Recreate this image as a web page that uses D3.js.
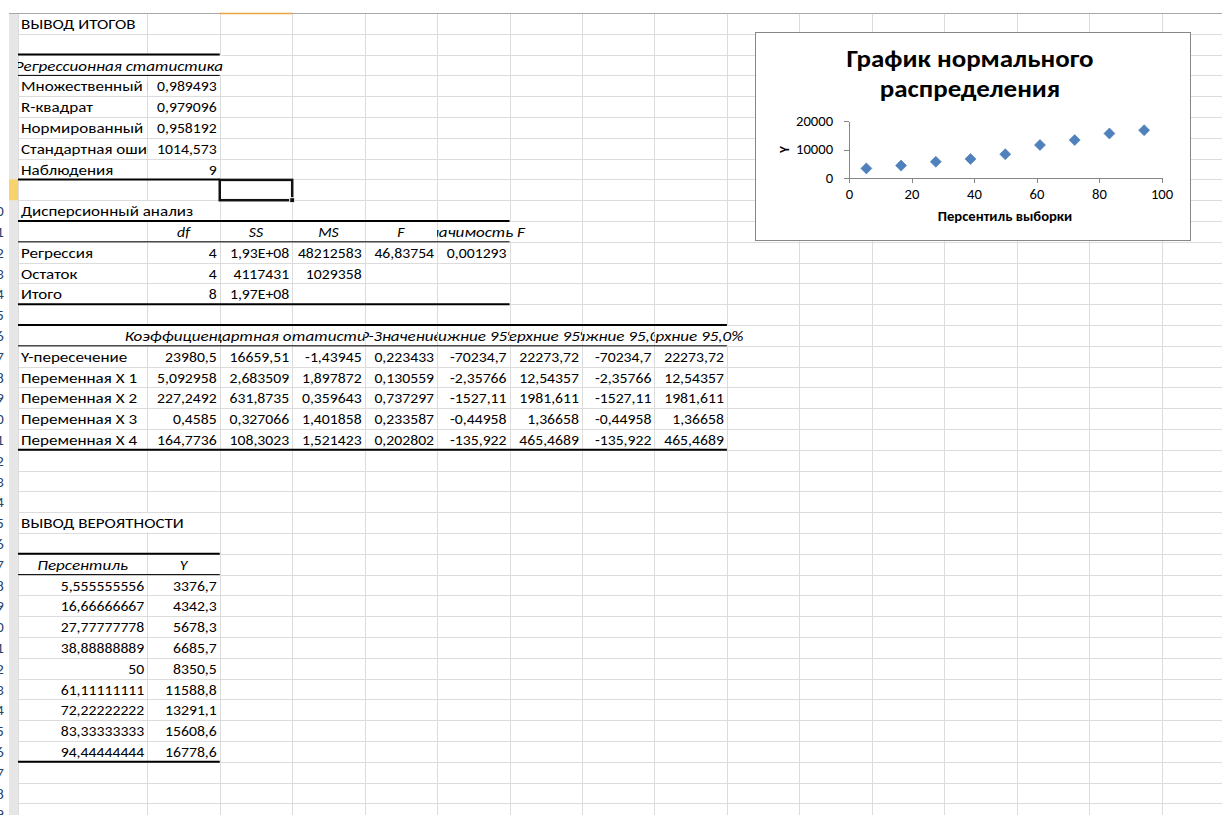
<!DOCTYPE html>
<html lang="ru">
<head>
<meta charset="utf-8">
<title>Вывод итогов</title>
<style>
body { margin: 0; padding: 0; background: white; }
svg { display: block; font-family: Calibri, Carlito, 'Open Sans', sans-serif; }
.cell { font-size: 14.7px; fill: #000; }
.rownum { font-size: 14px; fill: #27446e; }
.grid line { stroke: #dcdcdc; stroke-width: 1; shape-rendering: crispEdges; }
.chart-title { font-size: 24.5px; font-weight: bold; fill: #000; }
.axis path, .axis line { stroke: #868686; shape-rendering: crispEdges; }
.axis text { font-size: 13.3px; fill: #000; font-family: Calibri, Carlito, 'Open Sans', sans-serif; }
.axis-title { font-size: 13.3px; font-weight: bold; fill: #000; }
</style>
</head>
<body>
<div id="sheet"></div>
<script src="https://d3js.org/d3.v7.min.js"></script>
<script>

const summaryTitle = "ВЫВОД ИТОГОВ";
const regStatTitle = "Регрессионная статистика";
const regStatLabels = ["Множественный R", "R-квадрат", "Нормированный R-квадрат", "Стандартная ошибка", "Наблюдения"];
const regStatValues = ["0,989493", "0,979096", "0,958192", "1014,573", "9"];

const anovaTitle = "Дисперсионный анализ";
const anovaHeaders = ["df", "SS", "MS", "F", "Значимость F"];
const anovaLabels = ["Регрессия", "Остаток", "Итого"];
const anovaValues = [
	["4", "1,93E+08", "48212583", "46,83754", "0,001293"],
	["4", "4117431", "1029358", "", ""],
	["8", "1,97E+08", "", "", ""]
];

const coefHeaders = ["Коэффициенты", "Стандартная ошибка", "t-статистика", "P-Значение", "Нижние 95%", "Верхние 95%", "Нижние 95,0%", "Верхние 95,0%"];
const coefLabels = ["Y-пересечение", "Переменная X 1", "Переменная X 2", "Переменная X 3", "Переменная X 4"];
const coefValues = [
	["23980,5", "16659,51", "-1,43945", "0,223433", "-70234,7", "22273,72", "-70234,7", "22273,72"],
	["5,092958", "2,683509", "1,897872", "0,130559", "-2,35766", "12,54357", "-2,35766", "12,54357"],
	["227,2492", "631,8735", "0,359643", "0,737297", "-1527,11", "1981,611", "-1527,11", "1981,611"],
	["0,4585", "0,327066", "1,401858", "0,233587", "-0,44958", "1,36658", "-0,44958", "1,36658"],
	["164,7736", "108,3023", "1,521423", "0,202802", "-135,922", "465,4689", "-135,922", "465,4689"]
];

const probTitle = "ВЫВОД ВЕРОЯТНОСТИ";
const probHeaders = ["Персентиль", "Y"];
const percentiles = [5.555555556, 16.66666667, 27.77777778, 38.88888889, 50, 61.11111111, 72.22222222, 83.33333333, 94.44444444];
const yValues = [3376.7, 4342.3, 5678.3, 6685.7, 8350.5, 11588.8, 13291.1, 15608.6, 16778.6];

const chartTitle = ["График нормального", "распределения"];
const xTicks = [0, 20, 40, 60, 80, 100];
const yTicks = [0, 10000, 20000];
const xTitle = "Персентиль выборки";
const yTitle = "Y";

// sheet geometry
const W = 1222, H = 815;
const top0 = 13, rowH = 20.8, nRows = 39;
const sx = 1.1;      // the screenshot is a bit wider than tall
const sxWord = 1.16; // cyrillic came out wider than the digits
const sxNum = 1.07;
const colEdges = [18, 147.3];
while (colEdges[colEdges.length - 1] < W) colEdges.push(colEdges[colEdges.length - 1] + 72.45);
const rowTop = r => top0 + (r - 1) * rowH;
const baseY = r => rowTop(r) + rowH - 4.8;

const fmt = v => (+v.toPrecision(10)).toString().replace(".", ",");

// cells: r is 1-based row, c is 0-based column
const cells = [];
function put(r, c, text, align, italic, span) {
	if (text === "") return;
	cells.push({r: r, c: c, c1: span || c, text: text, align: align || "left", italic: !!italic});
}

put(1, 0, summaryTitle);
put(3, 0, regStatTitle, "center", true, 1);
regStatLabels.forEach(function(d, i){
	put(4 + i, 0, d);
	put(4 + i, 1, regStatValues[i], "right");
});

put(10, 0, anovaTitle);
anovaHeaders.forEach(function(d, i){ put(11, 1 + i, d, "center", true); });
anovaLabels.forEach(function(d, i){
	put(12 + i, 0, d);
	anovaValues[i].forEach(function(v, j){ put(12 + i, 1 + j, v, "right"); });
});

coefHeaders.forEach(function(d, i){ put(16, 1 + i, d, "center", true); });
coefLabels.forEach(function(d, i){
	put(17 + i, 0, d);
	coefValues[i].forEach(function(v, j){ put(17 + i, 1 + j, v, "right"); });
});

put(25, 0, probTitle);
probHeaders.forEach(function(d, i){ put(27, i, d, "center", true); });
percentiles.forEach(function(d, i){
	put(28 + i, 0, fmt(d), "right");
	put(28 + i, 1, fmt(yValues[i]), "right");
});

// table borders: [row, edge, lastCol, weight]
const borders = [
	[3, "top", 1, 2], [3, "bottom", 1, 1], [8, "bottom", 1, 2],
	[11, "top", 5, 2], [11, "bottom", 5, 1], [14, "bottom", 5, 2],
	[16, "top", 8, 2], [16, "bottom", 8, 1], [21, "bottom", 8, 2],
	[27, "top", 1, 2], [27, "bottom", 1, 1], [36, "bottom", 1, 2]
];

const svg = d3.select("#sheet")
	.append("svg")
	.attr("width", W)
	.attr("height", H);

const defs = svg.append("defs");

// gridlines
const grid = svg.append("g").attr("class", "grid");
d3.range(1, nRows + 1).forEach(function(r){
	grid.append("line")
		.attr("x1", 18).attr("x2", W)
		.attr("y1", Math.round(rowTop(r)) + 0.5).attr("y2", Math.round(rowTop(r)) + 0.5);
});
colEdges.forEach(function(x){
	grid.append("line")
		.attr("x1", Math.round(x) + 0.5).attr("x2", Math.round(x) + 0.5)
		.attr("y1", top0).attr("y2", H);
});

// row header strip
svg.append("rect")
	.attr("x", 9).attr("y", top0)
	.attr("width", 9).attr("height", H - top0)
	.attr("fill", "#e6e6e6");
svg.append("rect")
	.attr("x", 9).attr("y", rowTop(9))
	.attr("width", 9).attr("height", rowH)
	.attr("fill", "#f7d36b");
svg.append("line")
	.attr("x1", 9).attr("x2", W)
	.attr("y1", top0 + 0.5).attr("y2", top0 + 0.5)
	.attr("stroke", "#a8a8a8");
svg.append("line")
	.attr("x1", colEdges[2]).attr("x2", colEdges[3])
	.attr("y1", top0 + 0.5).attr("y2", top0 + 0.5)
	.attr("stroke", "#e9a53f")
	.attr("stroke-width", 1.5);

// row numbers: the header column is cut, only the last digit peeks out
defs.append("clipPath").attr("id", "rowclip")
	.append("rect").attr("x", 0).attr("y", 0).attr("width", 9).attr("height", H);
const rowNums = svg.append("g").attr("clip-path", "url(#rowclip)");
d3.range(1, nRows + 1).forEach(function(r){
	rowNums.append("text")
		.attr("class", "rownum")
		.attr("transform", "translate(-4," + baseY(r) + ") scale(" + sx + ",1)")
		.attr("text-anchor", "middle")
		.text(r);
});

// cell text with excel-like overflow
const occupied = {};
cells.forEach(function(d){
	for (let c = d.c; c <= d.c1; c++) occupied[d.r + "_" + c] = true;
});

const bgLayer = svg.append("g");
const textLayer = svg.append("g");

cells.forEach(function(d, i){
	const left = colEdges[d.c], right = colEdges[d.c1 + 1];
	let clipL = left, clipR = right;
	if (d.align !== "left") {
		let c = d.c - 1;
		while (c >= 0 && !occupied[d.r + "_" + c]) c--;
		clipL = colEdges[c + 1];
	}
	if (d.align !== "right") {
		let c = d.c1 + 1;
		while (colEdges[c + 1] !== undefined && !occupied[d.r + "_" + c]) c++;
		clipR = colEdges[c] !== undefined ? colEdges[c] : W;
	}
	const x = d.align === "left" ? left + 3 : d.align === "right" ? right - 3 : (left + right) / 2;
	const anchor = d.align === "left" ? "start" : d.align === "right" ? "end" : "middle";
	const k = /[А-Яа-яЁё]/.test(d.text) ? sxWord : sxNum;

	defs.append("clipPath").attr("id", "cc" + i)
		.append("rect")
		.attr("x", clipL).attr("y", rowTop(d.r))
		.attr("width", clipR - clipL).attr("height", rowH);

	const t = textLayer.append("g")
		.attr("clip-path", "url(#cc" + i + ")")
		.append("text")
		.attr("class", "cell")
		.attr("transform", "translate(" + x + "," + baseY(d.r) + ") scale(" + k + ",1)")
		.attr("text-anchor", anchor)
		.style("font-style", d.italic ? "italic" : null)
		.text(d.text);

	const w = t.node().getComputedTextLength() * k;
	const tx0 = anchor === "start" ? x : anchor === "end" ? x - w : x - w / 2;
	const x0 = Math.max(tx0, clipL + 1), x1 = Math.min(tx0 + w, clipR - 1);
	if (x1 > x0 && (tx0 < left || tx0 + w > right)) {
		bgLayer.append("rect")
			.attr("x", x0).attr("y", rowTop(d.r) + 1)
			.attr("width", x1 - x0).attr("height", rowH - 1.5)
			.attr("fill", "white");
	}
});

// borders
borders.forEach(function(b){
	const y = b[1] === "top" ? rowTop(b[0]) : rowTop(b[0] + 1);
	svg.append("line")
		.attr("x1", colEdges[0]).attr("x2", colEdges[b[2] + 1])
		.attr("y1", y).attr("y2", y)
		.attr("stroke", "#000")
		.attr("stroke-width", b[3]);
});

// selected cell C9
const selX0 = colEdges[2], selX1 = colEdges[3];
svg.append("rect")
	.attr("x", selX0).attr("y", rowTop(9) + 0.5)
	.attr("width", selX1 - selX0).attr("height", rowH - 0.5)
	.attr("fill", "none")
	.attr("stroke", "#111")
	.attr("stroke-width", 2.5);
svg.append("rect")
	.attr("x", selX1 - 2.5).attr("y", rowTop(10) - 2.5)
	.attr("width", 5).attr("height", 5)
	.attr("fill", "#111")
	.attr("stroke", "white")
	.attr("stroke-width", 1);

// chart
const chart = {x: 755, y: 32, w: 435, h: 208};
const cg = svg.append("g")
	.attr("transform", "translate(" + chart.x + "," + chart.y + ")");

cg.append("rect")
	.attr("x", 0.5).attr("y", 0.5)
	.attr("width", chart.w).attr("height", chart.h)
	.attr("fill", "white")
	.attr("stroke", "#878787");

cg.selectAll(".chart-title")
	.data(chartTitle)
	.enter()
	.append("text")
	.attr("class", "chart-title")
	.attr("transform", function(_, i){
		return "translate(215," + (35 + i * 29.5) + ") scale(" + sx + ",1)";
	})
	.attr("text-anchor", "middle")
	.text(function(d){ return d; });

const plot = {left: 94, right: 406.5, top: 89, bottom: 146};

const xScale = d3.scaleLinear()
	.domain([0, 100])
	.range([plot.left, plot.right]);

const yScale = d3.scaleLinear()
	.domain([0, 20000])
	.range([plot.bottom, plot.top]);

const xAxis = d3.axisBottom(xScale)
	.tickValues(xTicks)
	.tickFormat(d3.format("d"))
	.tickSizeInner(5)
	.tickSizeOuter(0)
	.tickPadding(7);

const yAxis = d3.axisLeft(yScale)
	.tickValues(yTicks)
	.tickFormat(d3.format("d"))
	.tickSizeInner(5)
	.tickSizeOuter(0)
	.tickPadding(9.5);

cg.append("g")
	.attr("class", "axis")
	.attr("transform", "translate(0," + plot.bottom + ")")
	.call(xAxis)
	.selectAll("text")
	.attr("transform", "scale(" + sx + ",1)");

cg.append("g")
	.attr("class", "axis")
	.attr("transform", "translate(" + plot.left + ",0)")
	.call(yAxis)
	.selectAll("text")
	.attr("transform", "scale(" + sx + ",1)");

cg.append("text")
	.attr("class", "axis-title")
	.attr("transform", "translate(250,189) scale(" + sx + ",1)")
	.attr("text-anchor", "middle")
	.text(xTitle);

cg.append("text")
	.attr("class", "axis-title")
	.attr("transform", "translate(29," + yScale(10000) + ") rotate(-90)")
	.attr("text-anchor", "middle")
	.attr("dy", "0.35em")
	.text(yTitle);

const diamond = "M0,-5.5L5.5,0L0,5.5L-5.5,0Z";

cg.selectAll(".point")
	.data(percentiles)
	.enter()
	.append("path")
	.attr("class", "point")
	.attr("d", diamond)
	.attr("transform", function(d, i){
		return "translate(" + xScale(d) + "," + yScale(yValues[i]) + ")";
	})
	.attr("fill", "#4f81bd")
	.attr("stroke", "#4677b2")
	.attr("stroke-width", 0.6);

</script>
</body>
</html>
